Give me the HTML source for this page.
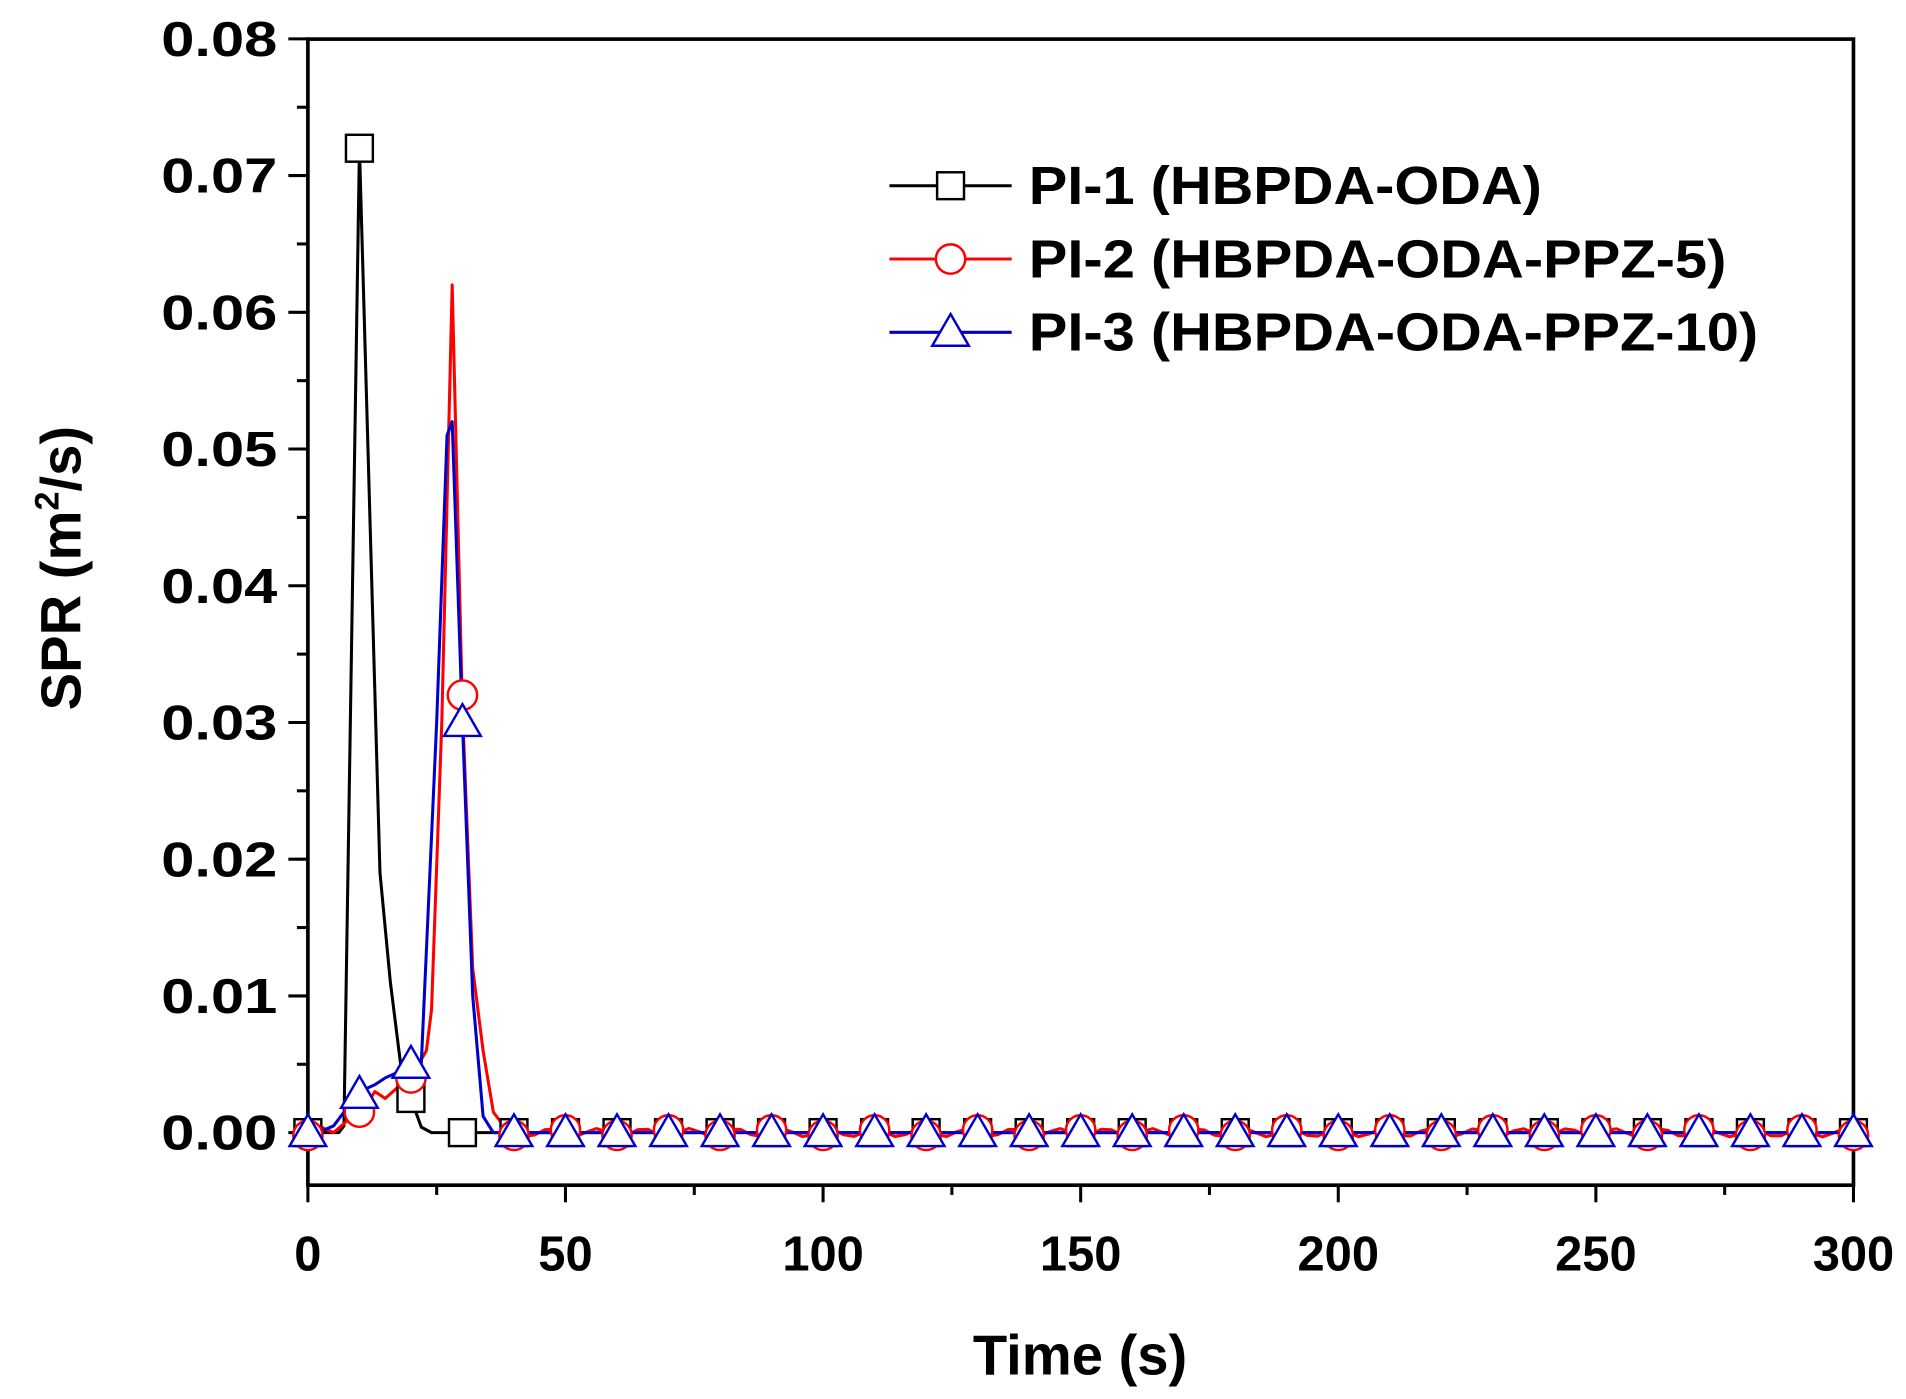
<!DOCTYPE html>
<html><head><meta charset="utf-8"><style>
html,body{margin:0;padding:0;background:#fff;}
svg{display:block;}
text{font-family:"Liberation Sans Narrow","Liberation Sans",sans-serif;font-weight:bold;fill:#000;}
</style></head><body>
<svg id="s" width="1906" height="1399" viewBox="0 0 1560 1145" preserveAspectRatio="none" xmlns="http://www.w3.org/2000/svg">
<g id="g"></g>
</svg>
<script>
var L=252,R=1517,T=32,B=970;
function X(t){return L+t*(R-L)/300;}
function Y(v){return 927-v*11190;}
var s='';
// frame
s+='<rect x="'+L+'" y="'+T+'" width="'+(R-L)+'" height="'+(B-T)+'" fill="none" stroke="#000" stroke-width="3"/>';
// y ticks
for(var i=0;i<=16;i++){var v=i*0.005,y=Y(v);if(y<T-1)continue;var len=(i%2==0)?16:9;s+='<line x1="'+(L-len)+'" y1="'+y+'" x2="'+L+'" y2="'+y+'" stroke="#000" stroke-width="2.5"/>';
 if(i%2==0)s+='<text x="'+(L-25)+'" y="'+(y+14)+'" font-size="40" text-anchor="end" textLength="95" lengthAdjust="spacingAndGlyphs">'+v.toFixed(2)+'</text>';}
for(var t=0;t<=300;t+=25){var x=X(t);var len=(t%50==0)?14:8;s+='<line x1="'+x+'" y1="'+B+'" x2="'+x+'" y2="'+(B+len)+'" stroke="#000" stroke-width="2.5"/>';
 if(t%50==0)s+='<text x="'+x+'" y="'+(B+70)+'" font-size="40" text-anchor="middle">'+t+'</text>';}
s+='<text x="884" y="1125" font-size="46" text-anchor="middle">Time (s)</text>';
s+='<text transform="translate(66,465) rotate(-90)" font-size="46" text-anchor="middle">SPR (m<tspan font-size="28" dy="-18">2</tspan><tspan dy="18">/s)</tspan></text>';
function noise(k,a){return a*Math.sin(k*1.7+a*1000)*Math.cos(k*0.9);}
// black
var b=[[0,0],[6,0],[7,0.0005],[10,0.072],[14,0.019],[16,0.011],[18,0.005],[20,0.0025],[22,0.0004],[24,0],[300,0]];
var r=[[0,-0.0005],[2,0.0005],[5,0],[8,0.001],[10,0.0012],[13,0.003],[15,0.0025],[18,0.0035],[20,0.004],[23,0.006],[24,0.009],[26,0.03],[28,0.062],[30,0.031],[32,0.012],[34,0.006],[36,0.0015],[38,0.0005]];
for(var t=40;t<=300;t+=2)r.push([t,0.0003*Math.sin(t*0.7)]);
var bl=[[0,0.0002],[2,0],[5,0.0005],[8,0.002],[10,0.003],[13,0.0035],[15,0.004],[18,0.0045],[20,0.005],[22,0.005],[25,0.03],[27,0.051],[28,0.052],[30,0.03],[32,0.01],[34,0.0012],[36,0],[300,0]];
function path(d,c,w){var p='';d.forEach(function(q,i){p+=(i?'L':'M')+X(q[0]).toFixed(1)+','+Y(q[1]).toFixed(1);});return '<path d="'+p+'" fill="none" stroke="'+c+'" stroke-width="'+w+'" stroke-linejoin="round"/>';}
s+=path(b,'#000',2.5);s+=path(r,'#f00',2.5);s+=path(bl,'#00c',2.5);
function val(d,t){for(var i=1;i<d.length;i++){if(d[i][0]>=t){var a=d[i-1],c=d[i];return a[1]+(c[1]-a[1])*(t-a[0])/(c[0]-a[0]||1);}}return 0;}
function sq(x,y){return '<rect x="'+(x-11)+'" y="'+(y-11)+'" width="22" height="22" fill="#fff" stroke="#000" stroke-width="2"/>';}
function ci(x,y){return '<circle cx="'+x+'" cy="'+y+'" r="12" fill="#fff" stroke="#f00" stroke-width="2"/>';}
function tr(x,y){return '<path d="M'+x+','+(y-15)+'L'+(x+15)+','+(y+11)+'L'+(x-15)+','+(y+11)+'Z" fill="#fff" stroke="#00c" stroke-width="2"/>';}
for(var t=0;t<=300;t+=10){s+=sq(X(t),Y(t==10?0.072:val(b,t)));}
for(var t=0;t<=300;t+=10){s+=ci(X(t),Y(t==30?0.032:(t==10?0.0015:(t==20?0.004:0.0002*((t/10)%2?1:-1)))));}
for(var t=0;t<=300;t+=10){s+=tr(X(t),Y(t==30?0.03:(t==10?0.0028:(t==20?0.005:0))));}
// legend
var ly=[152,212,272],cols=['#000','#f00','#00c'],labs=['PI-1 (HBPDA-ODA)','PI-2 (HBPDA-ODA-PPZ-5)','PI-3 (HBPDA-ODA-PPZ-10)'],lw=[420,571,597];
for(var i=0;i<3;i++){s+='<line x1="728" y1="'+ly[i]+'" x2="828" y2="'+ly[i]+'" stroke="'+cols[i]+'" stroke-width="2.5"/>';
 s+=(i==0?sq(778,ly[i]):i==1?ci(778,ly[i]):tr(778,ly[i]));
 s+='<text x="842" y="'+(ly[i]+15)+'" font-size="44" textLength="'+lw[i]+'" lengthAdjust="spacingAndGlyphs">'+labs[i]+'</text>';}
document.getElementById('g').innerHTML=s;
</script>
</body></html>
